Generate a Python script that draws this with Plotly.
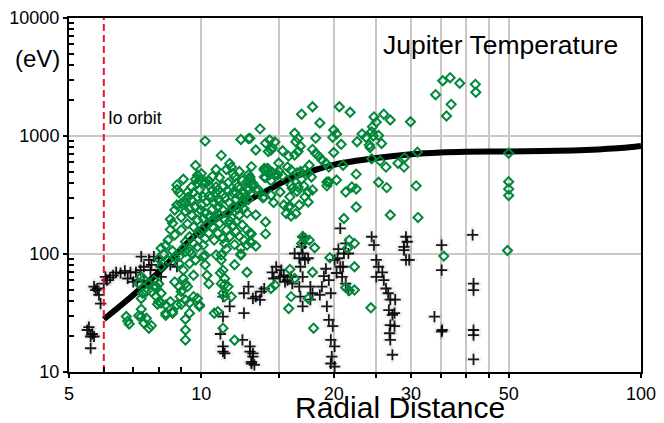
import math
import plotly.graph_objects as go

# ---------------- data ----------------
# Model temperature curve (radial distance R_J, temperature eV)
curve_r = [6, 7, 8, 9, 10, 12, 14, 16, 18, 20, 25, 30, 35, 40, 50, 60, 70, 80, 90, 100]
curve_t = [28, 45, 70, 110, 160, 250, 340, 440, 510, 570, 650, 700, 725, 735, 740, 745, 755, 770, 790, 825]

io_r = 6

# Green diamonds (r, T)
green_near = [
    (6.75, 29.5), (6.8, 27), (6.85, 25.5), (7.2, 30), (7.3, 34), (7.3, 29.5), (7.5, 28.5), (7.4, 26), (7.6, 23.5), (7.7, 24.7),
    (7.3, 64), (7.4, 61), (7.2, 56), (7.35, 46.5), (7.5, 48), (7.3, 42), (7.6, 56), (7.8, 53), (7.7, 48),
    (8.0, 91), (8.1, 78), (7.8, 60), (8.0, 56), (7.9, 53), (8.1, 46.5), (7.9, 43.5), (8.0, 39.5), (8.3, 37), (8.5, 39.5),
    (8.6, 32.5), (8.3, 31.5), (7.95, 37.5), (8.1, 38.5), (8.3, 30.3), (8.6, 31.5), (8.8, 37),
    (8.7, 58), (8.9, 53), (8.1, 112), (8.4, 131), (8.5, 197), (8.6, 182), (8.5, 161), (8.7, 145), (8.7, 236), (8.8, 260),
    (8.6, 106), (8.9, 95), (8.7, 95), (8.9, 83), (8.8, 385), (8.8, 352), (8.9, 330), (8.2, 100), (8.4, 88), (8.3, 118),
]
green_core = [
    (9.0, 37.5), (9.2, 28), (9.2, 22.7), (9.2, 18.7), (9.4, 31.5), (9.9, 36), (9.9, 37),
    (9.2, 56), (9.3, 53), (9.0, 48), (8.95, 43.5), (9.2, 40.8), (9.4, 38.5), (9.6, 43.5), (9.8, 42), (9.1, 62), (9.6, 66),
    (9.1, 73), (9.2, 105), (9.5, 101), (9.4, 83), (9.7, 89), (10.1, 95),
    (10.2, 81), (10.3, 66), (10.4, 56), (10.8, 98), (11.1, 89), (11.2, 73), (11.05, 69), (11.3, 62), (11.3, 55), (11.1, 56),
    (11.5, 53), (11.2, 46.5), (11.3, 43.5), (11.7, 43.5), (12.3, 98), (11.9, 81), (12.7, 70),
    (10.7, 31.5), (10.9, 32.5), (11.2, 23.5), (11.9, 18.6),
    (10.2, 97), (11.1, 98), (12.3, 100), (12.9, 127), (13.3, 117), (13.0, 148), (13.0, 125),
    (9.8, 305), (9.5, 287), (9.2, 276), (9.0, 268), (9.7, 250), (9.95, 236), (10.2, 222), (10.4, 207), (10.1, 200), (9.8, 194), (9.5, 214),
    (10.9, 250), (11.2, 236), (11.5, 222), (11.7, 204), (11.3, 194), (11.0, 182),
    (12.3, 268), (12.5, 243), (12.7, 222), (12.2, 214), (12.0, 188), (12.4, 176), (12.7, 160), (12.2, 141), (12.5, 131), (12.7, 119), (12.3, 112),
    (10.8, 207), (10.6, 170), (10.9, 150), (11.2, 136), (11.3, 123), (10.7, 131), (10.2, 135), (10.1, 119), (9.8, 115), (9.6, 123),
    (9.2, 127), (9.1, 112), (9.4, 105),
    (10.2, 905), (11.1, 685), (11.6, 585), (11.7, 545), (11.0, 445), (12.3, 935), (12.8, 950), (9.7, 562), (9.8, 465), (9.7, 430),
    (9.9, 424), (9.8, 397), (9.1, 430), (9.3, 335),
    (10.2, 410), (10.4, 385), (10.2, 397), (10.4, 418), (10.8, 370), (10.9, 349), (10.8, 330), (10.6, 349), (10.4, 310), (10.1, 305),
    (12.1, 370), (11.8, 330), (12.2, 315), (12.0, 397), (12.0, 330), (12.5, 330), (12.7, 360), (13.0, 385),
    (12.8, 470), (12.9, 430), (12.7, 410), (13.1, 397), (12.8, 349), (12.6, 305), (12.8, 290), (12.5, 276),
    (13.6, 1150), (12.9, 955), (13.3, 761), (13.0, 550), (12.9, 450), (12.9, 405), (13.1, 385), (13.5, 349), (13.8, 300),
    (13.9, 530), (13.9, 450), (13.9, 515), (13.3, 214), (13.3, 349), (13.9, 305), (12.9, 150),
    (10.0, 260), (10.3, 280), (10.6, 240), (10.5, 300), (11.0, 280), (11.3, 300), (11.6, 270), (11.8, 250), (12.0, 290),
    (11.5, 340), (11.2, 320), (10.9, 290), (11.0, 215), (10.6, 195), (10.3, 175), (10.0, 160), (11.4, 160), (11.8, 175),
    (12.1, 240), (11.6, 190), (10.7, 270), (11.9, 120), (11.6, 140), (11.4, 110), (12.0, 155), (10.4, 150), (11.5, 400),
    (11.2, 380), (11.9, 450), (12.4, 420), (12.2, 500), (11.8, 480), (10.6, 455), (10.0, 480), (11.4, 520), (10.8, 520),
    (9.9, 350), (9.5, 370), (9.3, 300), (9.6, 330), (9.4, 240), (9.2, 230), (9.0, 205), (9.3, 180), (9.6, 170), (9.9, 150),
    (9.0, 160), (9.4, 140),
]
green_far = [
    (29.9, 1320), (26.9, 1366), (26.0, 1530), (24.7, 1450), (25.0, 1310), (24.5, 1195), (24.4, 1085), (24.6, 1000), (25.3, 1010),
    (25.7, 865), (23.2, 1040), (23.7, 975), (24.1, 840), (24.2, 800), (22.6, 895), (21.8, 1590), (20.6, 1770), (20.0, 1124),
    (20.3, 1040), (19.9, 975), (20.8, 850), (18.6, 1290), (17.9, 1770), (16.9, 1530), (18.2, 960), (16.3, 1055), (16.6, 955),
    (16.4, 895), (16.8, 820),
    (14.0, 870), (14.3, 925), (14.7, 890), (14.4, 761), (14.2, 740), (15.3, 750), (15.8, 675), (16.3, 690), (16.6, 740),
    (17.9, 770), (18.2, 710), (18.5, 675), (18.8, 626), (19.2, 588), (20.0, 725), (21.0, 565), (19.5, 545), (15.0, 590),
    (15.7, 545), (16.0, 515), (14.1, 530), (14.3, 470), (14.7, 470), (15.0, 505), (15.3, 460), (16.1, 450), (16.5, 485),
    (16.8, 500), (17.2, 515), (17.6, 565), (17.5, 485), (17.8, 450), (16.9, 430), (16.0, 385), (16.1, 360), (16.6, 370),
    (17.1, 378), (16.5, 340), (17.5, 335), (17.2, 305), (17.9, 349), (16.7, 260), (17.5, 276), (15.9, 305), (15.4, 260),
    (15.6, 220), (15.8, 250), (16.0, 210), (16.4, 220), (14.6, 273), (15.1, 335), (14.4, 315), (14.0, 187), (14.0, 148),
    (14.5, 790), (14.2, 525), (14.5, 490), (14.9, 470), (14.0, 445), (14.4, 418),
    (19.3, 408), (19.5, 408), (19.3, 378), (20.3, 424), (22.5, 475), (21.3, 335), (22.0, 370), (22.5, 356), (21.1, 200),
    (22.5, 250), (24.4, 640), (25.5, 615), (26.3, 545), (25.3, 405), (26.4, 365), (28.0, 588), (28.9, 545), (29.0, 655),
    (31.0, 730), (30.8, 378), (26.9, 214), (31.1, 204),
    (17.0, 140), (17.2, 136), (17.6, 131), (16.9, 123), (18.1, 113), (19.6, 93), (17.9, 70), (15.9, 74), (16.3, 62),
    (14.7, 54.5), (14.4, 51), (16.0, 43.5), (17.5, 42), (15.8, 34.5), (18.0, 23.5), (21.7, 131), (22.3, 123), (21.5, 112),
    (22.3, 78), (21.3, 52), (21.7, 49), (22.3, 49.5), (24.3, 35), (15.9, 255),
]
green_outer = [
    (35.4, 2940), (36.8, 3120), (38.7, 2800), (42.0, 2740), (42.1, 2345), (34.1, 2240), (37.0, 1855), (36.1, 1477),
    (50.0, 715), (50.0, 410), (50.0, 355), (50.0, 313), (49.7, 107), (35.6, 96),
]

# Black crosses (r, T)
cross_inner = [
    (5.5, 22.7), (5.65, 21), (5.6, 20), (5.7, 20), (5.6, 15.9), (5.55, 24), (5.75, 49.5), (5.8, 51), (5.85, 45), (5.9, 38),
    (5.7, 53), (6.0, 56), (6.05, 64), (6.2, 63), (6.3, 66), (6.55, 69), (6.8, 62), (6.9, 70), (7.0, 58), (7.15, 60),
    (7.27, 73), (7.4, 58), (7.4, 78), (7.6, 89), (7.66, 73), (7.8, 95), (8.0, 92), (8.1, 78), (7.3, 95), (7.7, 81),
    (8.0, 73), (8.1, 64), (8.5, 81), (8.8, 78), (6.4, 70), (6.7, 72), (7.1, 70), (6.1, 60),
]
cross_mid = [
    (11.2, 43.5), (11.6, 36), (11.2, 29.5), (11.05, 21), (11.2, 16.5), (11.3, 14.4), (11.2, 14.9), (12.5, 46.5), (12.8, 53),
    (12.5, 31.5), (12.4, 18.7), (12.9, 16.5), (13.1, 14.4), (13.3, 43.5), (13.0, 11.8), (12.9, 14.9), (13.1, 13.5),
    (13.0, 12.2), (13.2, 11.5),
    (13.7, 48), (13.6, 40.8), (13.1, 42), (13.9, 51),
    (14.8, 78), (15.2, 73), (15.4, 66), (15.7, 60), (16.0, 64), (15.1, 64), (15.5, 58), (16.1, 56), (14.5, 70), (14.6, 62),
    (16.3, 101), (16.7, 92), (17.0, 101), (17.2, 89), (17.5, 92), (16.8, 78), (17.0, 64), (16.7, 53), (16.8, 43.5),
    (17.0, 36), (17.0, 140), (17.2, 123), (16.9, 115),
    (17.7, 53), (17.9, 46.5), (17.7, 41),
    (18.8, 53), (19.2, 75), (19.5, 60), (19.7, 46.5), (19.3, 36), (19.5, 27.6), (19.9, 24.5), (19.7, 18.7), (19.0, 65), (18.6, 45),
    (20.1, 89), (20.4, 92), (20.7, 78), (20.3, 69), (20.9, 64), (21.1, 101), (20.7, 165), (20.5, 110),
    (20.1, 16.5), (19.8, 13.5), (20.1, 11.1), (19.7, 11.8),
    (21.3, 123), (21.6, 101), (21.0, 78), (21.3, 56), (21.6, 49.5),
]
cross_outer = [
    (24.4, 140), (24.7, 119), (25.0, 89), (25.3, 78), (25.0, 64), (25.8, 70), (26.0, 60), (26.3, 51), (26.6, 46.5),
    (26.9, 41), (26.7, 33.5), (27.2, 30.5), (27.5, 31.5), (27.6, 41), (27.5, 24.5), (26.9, 18.7), (27.2, 14.0),
    (26.8, 21.3), (26.9, 25),
    (29.2, 140), (29.4, 127), (28.9, 108), (29.2, 89), (29.7, 89), (28.9, 115),
    (35.2, 119), (35.2, 73), (35.3, 22.7), (33.9, 29.5), (35.2, 22),
    (41.4, 145), (41.6, 56), (41.6, 49.5), (41.6, 22.7), (41.6, 20.5), (41.6, 12.8),
]

x_tickvals = [5, 10, 15, 20, 25, 30, 35, 40, 45, 50, 100]
x_ticktext = ["5", "10", "", "20", "", "30", "", "", "", "50", "100"]
x_minor = [6, 7, 8, 9]
y_tickvals = [10, 100, 1000, 10000]
y_ticktext = ["10", "100", "1000", "10000"]
y_minor = [20, 30, 40, 50, 60, 70, 80, 90, 200, 300, 400, 500, 600, 700, 800, 900,
           2000, 3000, 4000, 5000, 6000, 7000, 8000, 9000]

# ---------------- figure ----------------
green_all = green_near + green_core + green_far + green_outer
cross_all = cross_inner + cross_mid + cross_outer
gx = [p[0] for p in green_all]
gy = [p[1] for p in green_all]
cx = [p[0] for p in cross_all]
cy = [p[1] for p in cross_all]

FONT = "Liberation Sans, Arial, Helvetica, sans-serif"
fig = go.Figure()

# faint halo under the crosses
fig.add_trace(go.Scatter(x=cx, y=cy, mode="markers", hoverinfo="skip",
                         marker=dict(symbol="cross-thin", size=12,
                                     line=dict(width=4, color="rgba(0,0,0,0.05)"))))
fig.add_trace(go.Scatter(x=cx, y=cy, mode="markers",
                         marker=dict(symbol="cross-thin", size=8,
                                     line=dict(width=1.8, color="rgba(0,0,0,0.9)"))))
fig.add_trace(go.Scatter(x=curve_r, y=curve_t, mode="lines", line=dict(color="black", width=6, shape="spline")))
fig.add_trace(go.Scatter(x=gx, y=gy, mode="markers",
                         marker=dict(symbol="diamond-open", size=7, color="#00883a",
                                     line=dict(width=2, color="#00883a"))))
fig.add_trace(go.Scatter(x=[io_r, io_r], y=[10, 10000], mode="lines",
                         line=dict(color="#e3173a", width=2, dash="7px,4px")))

axis_common = dict(type="log", showline=True, linecolor="black", linewidth=2, mirror=True,
                   ticks="outside", ticklen=4, tickwidth=2, tickcolor="black",
                   showgrid=True, gridcolor="#cdc6c6", gridwidth=1.5, automargin=False,
                   ticklabeloverflow="allow",
                   tickfont=dict(family=FONT, size=18, color="black"))

# The page body adds an 8px offset, so the figure is 8px smaller than the window.
fig.update_layout(
    width=656, height=415,
    margin=dict(l=61, r=23, t=10, b=51, autoexpand=False),
    paper_bgcolor="white", plot_bgcolor="white",
    showlegend=False,
    xaxis=dict(range=[math.log10(5), 2], tickmode="array", tickvals=x_tickvals, ticktext=x_ticktext,
               minor=dict(tickmode="array", tickvals=x_minor, ticks="inside", ticklen=5, tickwidth=1.5,
                          tickcolor="black", showgrid=False),
               **axis_common),
    yaxis=dict(range=[1, 4], tickmode="array", tickvals=y_tickvals, ticktext=y_ticktext,
               minor=dict(tickmode="array", tickvals=y_minor, ticks="inside", ticklen=5, tickwidth=1.5,
                          tickcolor="black", showgrid=False),
               **axis_common),
    annotations=[
        dict(text="Jupiter Temperature", xref="paper", yref="paper", x=0.7535, y=0.924,
             xanchor="center", yanchor="middle",
             showarrow=False, font=dict(family=FONT, size=26.5, color="black")),
        dict(text="(eV)", xref="paper", yref="paper", x=-0.055, y=0.887,
             xanchor="center", yanchor="middle",
             showarrow=False, font=dict(family=FONT, size=24, color="black")),
        dict(text="Radial Distance", xref="paper", yref="paper", x=0.579, y=-0.1,
             xanchor="center", yanchor="middle",
             showarrow=False, font=dict(family=FONT, size=30, color="black")),
        dict(text="Io orbit", xref="x", yref="paper", x=math.log10(io_r), y=0.7175,
             xanchor="left", yanchor="middle", xshift=2,
             showarrow=False, font=dict(family=FONT, size=17.5, color="black")),
    ],
)

fig.write_html("out.html")
